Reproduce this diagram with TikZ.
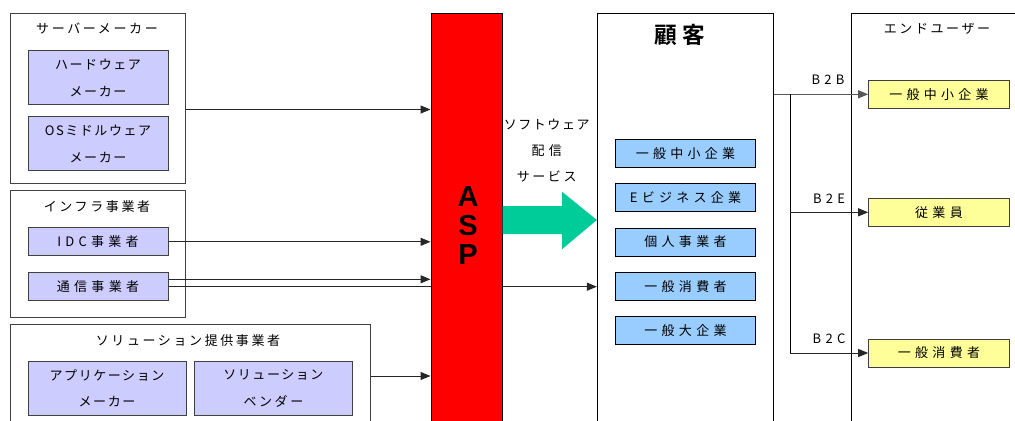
\documentclass[tikz,border=0pt]{standalone}
\usepackage{fontspec}
\usetikzlibrary{arrows.meta}
\newfontfamily\jpk[LetterSpace=33]{Noto Sans CJK JP}
\newfontfamily\jpm[LetterSpace=20]{Noto Sans CJK JP}
\newfontfamily\jpt[LetterSpace=12]{Noto Sans CJK JP}
\newfontfamily\jpb{Noto Sans CJK JP Bold}
\newfontfamily\arialf{Liberation Sans}
\definecolor{lav}{HTML}{CCCCFF}
\definecolor{skyb}{HTML}{99CCFF}
\definecolor{lyel}{HTML}{FFFF99}
\definecolor{aspred}{HTML}{FF0000}
\definecolor{teal}{HTML}{00CC99}
\definecolor{bord}{HTML}{404040}
\def\pxu{0.75pt}
\newcommand\bodysize{\fontsize{9.75pt}{20pt}\selectfont}
\tikzset{
  outerbox/.style={draw=bord, fill=white, line width=0.75pt, inner sep=0pt},
  lavbox/.style={draw=bord, fill=lav, line width=0.75pt, inner sep=0pt, align=center,
    minimum width=140*\pxu, font=\jpt\bodysize},
  bluebox/.style={draw=black, fill=skyb, line width=0.75pt, inner sep=0pt,
    minimum width=140.4*\pxu, minimum height=28*\pxu, font=\jpk\bodysize},
  yelbox/.style={draw=bord, fill=lyel, line width=0.75pt, inner sep=0pt,
    minimum width=140.6*\pxu, minimum height=28*\pxu, font=\jpk\bodysize},
  ttl/.style={inner sep=0pt, font=\jpm\bodysize},
  lbl/.style={inner sep=0pt, font=\jpk\bodysize},
  conn/.style={draw=black!85, line width=0.75pt, -{Triangle[length=7.5pt,width=6pt]}},
  plain/.style={draw=black, line width=0.75pt}
}
\begin{document}
\begin{tikzpicture}[x=0.75pt,y=-0.75pt]
\clip (0,0) rectangle (1015,421);
\fill[white] (0,0) rectangle (1015,421);
% left groups
\node[outerbox, minimum width=174.8*\pxu, minimum height=169.7*\pxu] (srv) at (98,98.2) {};
\node[ttl] (srvt) at (97,28) {サーバーメーカー};
\node[lavbox, minimum height=54.5*\pxu] (hw) at (98,77.7) {ハードウェア\\メーカー};
\node[lavbox, minimum height=54.3*\pxu] (os) at (98,143.8) {OSミドルウェア\\メーカー};
\node[outerbox, minimum width=174.8*\pxu, minimum height=127*\pxu] (inf) at (98,254.2) {};
\node[ttl] (inft) at (97,207) {インフラ事業者};
\node[lavbox, minimum height=28.3*\pxu, font=\jpk\bodysize] (idc) at (98,241.8) {IDC事業者};
\node[lavbox, minimum height=27.6*\pxu, font=\jpk\bodysize] (tsu) at (98,286.5) {通信事業者};
\node[outerbox, minimum width=359.3*\pxu, minimum height=116*\pxu] (sol) at (190.4,382) {};
\node[ttl] (solt) at (188,340.7) {ソリューション提供事業者};
\node[lavbox, minimum width=158*\pxu, minimum height=54.3*\pxu] (app) at (107,388.2) {アプリケーション\\メーカー};
\node[lavbox, minimum width=158.7*\pxu, minimum height=54.3*\pxu] (ven) at (273.4,388.2) {ソリューション\\{\jpm ベンダー}};
% customer box
\node[outerbox, draw=black, minimum width=175.7*\pxu, minimum height=426.7*\pxu] (cust) at (685.2,226.7) {};
\node[inner sep=0pt, font=\jpb\fontsize{17pt}{17pt}\selectfont] (custt) at (680,35) {顧\hspace{4pt}客};
\node[bluebox] (c1) at (685.5,153.3) {一般中小企業};
\node[bluebox] (c2) at (685.5,197.7) {Eビジネス企業};
\node[bluebox] (c3) at (685.5,242) {個人事業者};
\node[bluebox] (c4) at (685.5,286.3) {一般消費者};
\node[bluebox] (c5) at (685.5,330.9) {一般大企業};
% line behind ASP
\draw[conn] (tsu.east |- 0,286.7) -- (cust.west |- 0,286.7);
% ASP
\node[draw=black, fill=aspred, line width=0.75pt, inner sep=0pt, minimum width=71*\pxu, minimum height=426.7*\pxu] (asp) at (466.5,226.7) {};
\node[inner sep=0pt, align=center, font=\arialf\bfseries\fontsize{21.75pt}{21.4pt}\selectfont] (aspt) at (468,225.5) {A\\S\\P};
% connectors into ASP
\draw[conn] (srv.east |- 0,109.5) -- (asp.west |- 0,109.5);
\draw[conn] (idc.east) -- (asp.west |- idc.east);
\draw[conn] (tsu.east |- 0,279.3) -- (asp.west |- 0,279.3);
\draw[conn] (sol.east |- 0,376) -- (asp.west |- 0,376);
% green arrow
\fill[teal] (asp.east |- 0,206) -- (562,206) -- (562,191.7) -- (cust.west |- 0,220)
  -- (562,249.3) -- (562,234) -- (asp.east |- 0,234) -- cycle;
\node[inner sep=0pt, align=center, font=\jpt\fontsize{9.75pt}{19.5pt}\selectfont] (svc) at (546.7,151)
  {ソフトウェア\\{\jpk 配信}\\{\jpm サービス}};
% end users
\node[outerbox, draw=black, minimum width=178.7*\pxu, minimum height=426.7*\pxu] (endu) at (940.7,226.7) {};
\node[ttl] (endt) at (937,29) {エンドユーザー};
\node[yelbox] (y1) at (939,94.3) {一般中小企業};
\node[yelbox] (y2) at (939,212.3) {従業員};
\node[yelbox] (y3) at (939,353) {一般消費者};
% branches
\coordinate (br) at (790.3,94.3);
\draw[conn, draw=black!65] (cust.east |- y1.west) -- (y1.west);
\draw[plain] (br) -- (br |- y3.west);
\draw[conn] (br |- y2.west) -- (y2.west);
\draw[conn] (br |- y3.west) -- (y3.west);
\node[lbl] (b2b) at (828,80) {B2B};
\node[lbl] (b2e) at (829,198.3) {B2E};
\node[lbl] (b2c) at (829,339) {B2C};
\end{tikzpicture}
\end{document}
